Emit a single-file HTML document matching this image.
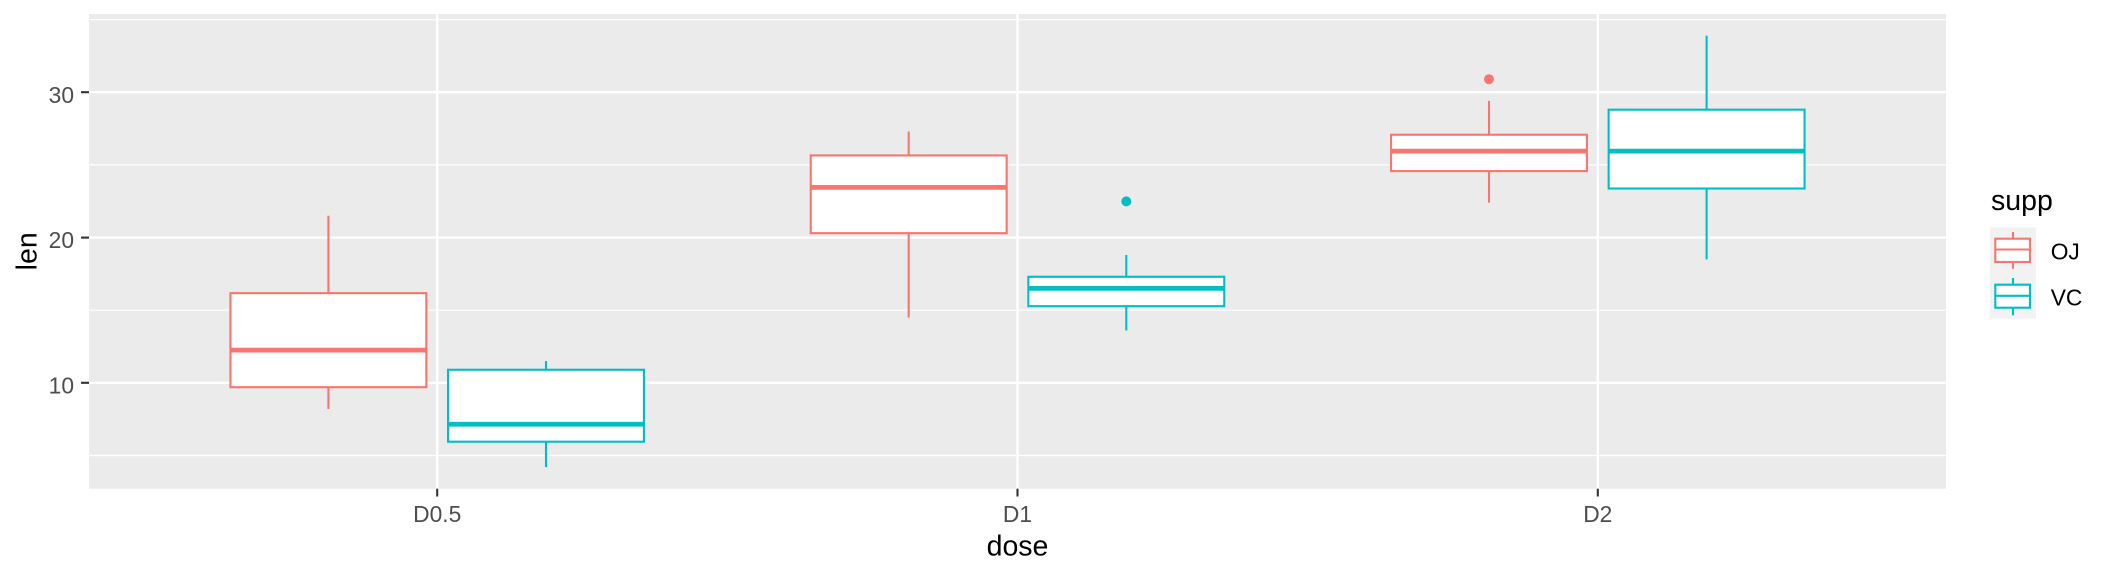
<!DOCTYPE html>
<html>
<head>
<meta charset="utf-8">
<style>
html,body{margin:0;padding:0;background:#fff;}
svg{display:block;}
text{font-family:"Liberation Sans",Arial,sans-serif;}
</style>
</head>
<body>
<svg width="2112" height="576" viewBox="0 0 2112 576" xmlns="http://www.w3.org/2000/svg">
<rect x="0" y="0" width="2112" height="576" fill="#ffffff"/>
<!-- panel -->
<rect x="89" y="14" width="1857" height="474.7" fill="#EBEBEB"/>
<!-- minor grid -->
<g stroke="#ffffff" stroke-width="1.2">
<line x1="89" x2="1946" y1="455.5" y2="455.5"/>
<line x1="89" x2="1946" y1="310.2" y2="310.2"/>
<line x1="89" x2="1946" y1="164.9" y2="164.9"/>
<line x1="89" x2="1946" y1="19.6" y2="19.6"/>
</g>
<!-- major grid -->
<g stroke="#ffffff" stroke-width="2.3">
<line x1="89" x2="1946" y1="382.8" y2="382.8"/>
<line x1="89" x2="1946" y1="237.6" y2="237.6"/>
<line x1="89" x2="1946" y1="92.2" y2="92.2"/>
<line x1="437.2" x2="437.2" y1="14" y2="488.7"/>
<line x1="1017.5" x2="1017.5" y1="14" y2="488.7"/>
<line x1="1597.8" x2="1597.8" y1="14" y2="488.7"/>
</g>

<!-- OJ boxes -->
<g stroke="#F8766D" stroke-width="2.1" fill="#ffffff">
<line x1="328.4" x2="328.4" y1="215.75" y2="293.12"/>
<line x1="328.4" x2="328.4" y1="387.2" y2="409"/>
<rect x="230.45" y="293.12" width="195.9" height="94.08"/>
<line x1="230.45" x2="426.35" y1="350.15" y2="350.15" stroke-width="4.7"/>

<line x1="908.7" x2="908.7" y1="131.47" y2="155.43"/>
<line x1="908.7" x2="908.7" y1="233.17" y2="317.46"/>
<rect x="810.75" y="155.43" width="195.9" height="77.74"/>
<line x1="810.75" x2="1006.65" y1="187.4" y2="187.4" stroke-width="4.7"/>

<line x1="1489" x2="1489" y1="100.96" y2="134.75"/>
<line x1="1489" x2="1489" y1="171.12" y2="202.67"/>
<rect x="1391.05" y="134.75" width="195.9" height="36.37"/>
<line x1="1391.05" x2="1586.95" y1="151.1" y2="151.1" stroke-width="4.7"/>
</g>
<circle cx="1489" cy="79.2" r="5" fill="#F8766D"/>

<!-- VC boxes -->
<g stroke="#00BFC4" stroke-width="2.1" fill="#ffffff">
<line x1="546" x2="546" y1="361.05" y2="369.76"/>
<line x1="546" x2="546" y1="441.69" y2="467.11"/>
<rect x="448.05" y="369.76" width="195.9" height="71.93"/>
<line x1="448.05" x2="643.95" y1="424.25" y2="424.25" stroke-width="4.7"/>

<line x1="1126.3" x2="1126.3" y1="254.98" y2="276.77"/>
<line x1="1126.3" x2="1126.3" y1="306.2" y2="330.53"/>
<rect x="1028.35" y="276.77" width="195.9" height="29.43"/>
<line x1="1028.35" x2="1224.25" y1="288.4" y2="288.4" stroke-width="4.7"/>

<line x1="1706.6" x2="1706.6" y1="35.57" y2="109.68"/>
<line x1="1706.6" x2="1706.6" y1="188.5" y2="259.33"/>
<rect x="1608.65" y="109.68" width="195.9" height="78.82"/>
<line x1="1608.65" x2="1804.55" y1="151.1" y2="151.1" stroke-width="4.7"/>
</g>
<circle cx="1126.3" cy="201.4" r="5" fill="#00BFC4"/>

<!-- axis ticks -->
<g stroke="#333333" stroke-width="2.1">
<line x1="81" x2="89" y1="382.8" y2="382.8"/>
<line x1="81" x2="89" y1="237.6" y2="237.6"/>
<line x1="81" x2="89" y1="92.2" y2="92.2"/>
<line x1="437.2" x2="437.2" y1="488.7" y2="496.5"/>
<line x1="1017.5" x2="1017.5" y1="488.7" y2="496.5"/>
<line x1="1597.8" x2="1597.8" y1="488.7" y2="496.5"/>
</g>

<!-- tick labels -->
<g fill="#4D4D4D" font-size="22.8">
<text x="74" y="393.4" text-anchor="end">10</text>
<text x="74" y="248.2" text-anchor="end">20</text>
<text x="74" y="102.8" text-anchor="end">30</text>
<text x="437.2" y="522" text-anchor="middle">D0.5</text>
<text x="1017.5" y="522" text-anchor="middle">D1</text>
<text x="1597.8" y="522" text-anchor="middle">D2</text>
</g>

<!-- axis titles -->
<text x="1017.5" y="555.3" text-anchor="middle" font-size="28.5" fill="#000">dose</text>
<text transform="translate(36.7,251.3) rotate(-90)" text-anchor="middle" font-size="28.5" fill="#000">len</text>

<!-- legend -->
<text x="1991" y="210" font-size="28.5" fill="#000">supp</text>
<rect x="1990" y="227.3" width="46" height="91.4" fill="#F2F2F2"/>
<g stroke="#F8766D" stroke-width="2.1" fill="#ffffff">
<line x1="2013" x2="2013" y1="232" y2="238.7"/>
<line x1="2013" x2="2013" y1="262" y2="268.7"/>
<rect x="1995.3" y="238.7" width="34.7" height="23.3"/>
<line x1="1995.3" x2="2030" y1="249.5" y2="249.5"/>
</g>
<g stroke="#00BFC4" stroke-width="2.1" fill="#ffffff">
<line x1="2013" x2="2013" y1="278" y2="284.7"/>
<line x1="2013" x2="2013" y1="307.7" y2="315.3"/>
<rect x="1995.3" y="284.7" width="34.7" height="23"/>
<line x1="1995.3" x2="2030" y1="295.8" y2="295.8"/>
</g>
<text x="2050.7" y="259.3" font-size="22.8" fill="#000">OJ</text>
<text x="2050.7" y="305.7" font-size="22.8" fill="#000">VC</text>
</svg>
</body>
</html>
